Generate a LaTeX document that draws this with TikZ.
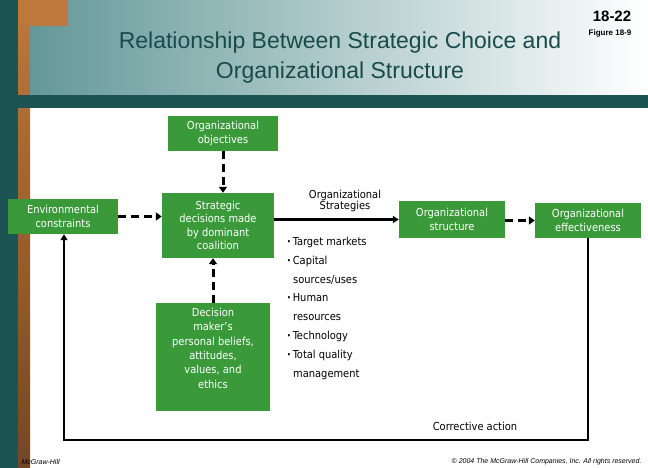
\documentclass[tikz,border=0pt]{standalone}
\usepackage{fontspec}
\setmainfont{DejaVu Sans}
\newfontfamily\condfont{DejaVu Sans Condensed}
\newfontfamily\titlefont{Liberation Sans}
\usetikzlibrary{arrows.meta}
\definecolor{boxgreen}{RGB}{58,154,58}
\definecolor{teal}{RGB}{28,84,84}
\definecolor{tealmid}{RGB}{100,152,152}
\definecolor{orng}{RGB}{190,120,60}
\tikzset{
  gbox/.style={fill=boxgreen, text=white, align=center, font=\condfont\fontsize{11}{13.5}\selectfont, inner sep=2pt},
  solidarrow/.style={line width=2.4pt, -{Triangle[length=6pt,width=7pt]}},
  dasharrow/.style={line width=3pt, dash pattern=on 8pt off 5pt, -{Triangle[length=6pt,width=8pt]}},
  plain/.style={font=\condfont\fontsize{11}{13}\selectfont, align=left, inner sep=0pt, anchor=north west}
}
\begin{document}
\begin{tikzpicture}[x=1pt,y=-1pt]
\useasboundingbox (0,0) rectangle (648,468);
\fill[white] (0,0) rectangle (648,468);
% side strips
\fill[teal] (0,0) rectangle (18,468);
\shade[top color=orng, bottom color=orng!60!black] (18,0) rectangle (30,468);
% header
\shade[left color=tealmid, right color=white] (30,0) rectangle (648,95);
\fill[orng] (18,0) rectangle (68,26);
\fill[teal] (18,95) rectangle (648,108);
\node[font=\titlefont\fontsize{23}{30}\selectfont, text=teal!90!black, align=center] (title) at (340,58) {Relationship Between Strategic Choice and\\Organizational Structure};
\node[font=\titlefont\bfseries\fontsize{15}{16}\selectfont] (num) at (612,16) {18-22};
\node[font=\titlefont\bfseries\fontsize{8}{9}\selectfont] (fig) at (610,33) {Figure 18-9};
% boxes
\node[gbox, minimum width=110pt, minimum height=35pt] (obj) at (223,133.5) {Organizational\\objectives};
\node[gbox, minimum width=110pt, minimum height=35pt] (env) at (63,216.5) {Environmental\\constraints};
\node[gbox, minimum width=112pt, minimum height=65pt] (strat) at (218,225.5) {Strategic\\decisions made\\by dominant\\coalition};
\node[gbox, minimum width=114pt, minimum height=108pt, anchor=north] (dm) at (213,303) {};
\node[gbox, anchor=north, fill=none, font=\condfont\fontsize{11}{14.3}\selectfont] (dmtext) at (213,306) {Decision\\maker’s\\personal beliefs,\\attitudes,\\values, and\\ethics};
\node[gbox, minimum width=106pt, minimum height=37pt] (struct) at (452,219.5) {Organizational\\structure};
\node[gbox, minimum width=106pt, minimum height=35pt] (eff) at (588,220.5) {Organizational\\effectiveness};
% labels
\node[font=\condfont\fontsize{11}{10.5}\selectfont, align=center] (os) at (345,201) {Organizational\\Strategies};
\node[plain] (list) at (287,237) {\parbox[t]{110pt}{\raggedright\baselineskip=18.8pt
\textbf{·}\,Target markets\\ \textbf{·}\,Capital\\ \hspace*{6pt}sources/uses\\ \textbf{·}\,Human\\ \hspace*{6pt}resources\\ \textbf{·}\,Technology\\ \textbf{·}\,Total quality\\ \hspace*{6pt}management}};
\node[font=\condfont\fontsize{11}{13}\selectfont] (corr) at (475,426) {Corrective action};
% arrows
\draw[dasharrow] (obj.south) -- (obj.south |- strat.north);
\draw[dasharrow] (env.east) -- (env.east -| strat.west);
\draw[dasharrow] (dm.north) -- (dm.north |- strat.south);
\draw[solidarrow] (strat.east |- struct.west) -- (struct.west);
\draw[dasharrow] (struct.east |- eff.west) -- (eff.west);
\coordinate (c1) at (588,440);
\coordinate (c2) at (64,440);
\draw[line width=2.4pt, line join=miter] (eff.south) -- (c1) -- (c2) -- ++(0,-2);
\draw[solidarrow] (c2) -- (env.south -| c2);
% footer
\node[font=\titlefont\itshape\fontsize{7}{8}\selectfont, anchor=west] (mh) at (18,462) {McGraw-Hill};
\node[font=\titlefont\itshape\fontsize{7}{8}\selectfont, anchor=east] (copy) at (645,462) {© 2004 The McGraw-Hill Companies, Inc. All rights reserved.};
\end{tikzpicture}
\end{document}
